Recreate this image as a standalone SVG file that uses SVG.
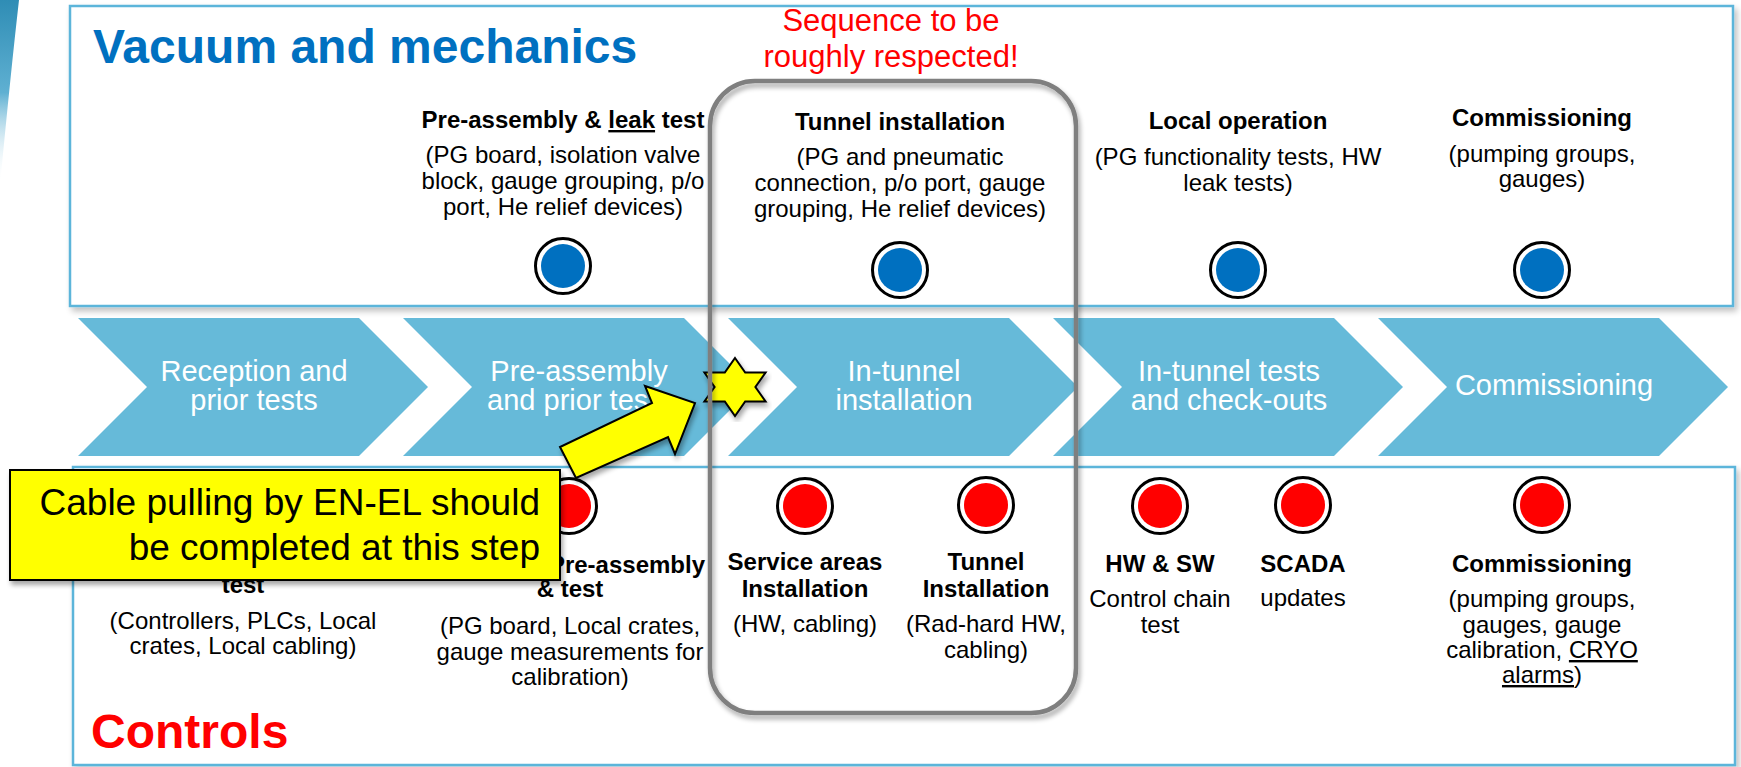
<svg xmlns="http://www.w3.org/2000/svg" width="1741" height="767" viewBox="0 0 1741 767">
<style>
  text { font-family: "Liberation Sans", Arial, sans-serif; }
  .title { font-size: 48px; font-weight: bold; }
  .hd { font-size: 24px; font-weight: bold; fill: #000; text-anchor: middle; }
  .bd { font-size: 24px; fill: #000; text-anchor: middle; }
  .chev { fill: #66BAD9; }
  .ct { font-size: 29px; fill: #fff; text-anchor: middle; }
  .panel { fill: #fff; stroke: #5BB5DA; stroke-width: 2.5; }
  .ring { fill: #fff; stroke: #000; stroke-width: 3; }
  .blue { fill: #0070C0; }
  .red { fill: #FF0000; }
</style>
<defs>
  <linearGradient id="swoosh" x1="0" y1="0" x2="0" y2="1">
    <stop offset="0" stop-color="#2F8DB5"/>
    <stop offset="0.5" stop-color="#5FB0D2"/>
    <stop offset="1" stop-color="#FFFFFF" stop-opacity="0"/>
  </linearGradient>
  <filter id="sh" x="-5%" y="-5%" width="110%" height="110%">
    <feGaussianBlur in="SourceAlpha" stdDeviation="3"/>
    <feOffset dx="3" dy="4"/>
    <feComponentTransfer><feFuncA type="linear" slope="0.25"/></feComponentTransfer>
    <feMerge><feMergeNode/><feMergeNode in="SourceGraphic"/></feMerge>
  </filter>
  <filter id="sh2" x="-10%" y="-10%" width="120%" height="120%">
    <feGaussianBlur in="SourceAlpha" stdDeviation="2.5"/>
    <feOffset dx="2" dy="4"/>
    <feComponentTransfer><feFuncA type="linear" slope="0.35"/></feComponentTransfer>
    <feMerge><feMergeNode/><feMergeNode in="SourceGraphic"/></feMerge>
  </filter>
  <filter id="soft" x="-20%" y="-20%" width="140%" height="140%">
    <feGaussianBlur stdDeviation="0.7"/>
  </filter>
</defs>

<rect width="1741" height="767" fill="#fff"/>
<path d="M0,0 L19,0 Q11,70 0,185 Z" fill="url(#swoosh)"/>

<!-- panels -->
<g id="vacuum-panel">
  <rect class="panel" x="70" y="6" width="1663" height="300" filter="url(#sh)"/>
  <text class="title" x="93" y="63" fill="#0070C0">Vacuum and mechanics</text>
</g>
<g id="controls-panel">
  <rect class="panel" x="73" y="467" width="1662" height="298" filter="url(#sh)"/>
  <text class="title" x="91" y="748" fill="#FF0000">Controls</text>
</g>

<!-- chevrons -->
<g id="step-reception">
  <path class="chev" d="M78,318 L359,318 L428,387 L359,456 L78,456 L147,387 Z"/>
  <text class="ct" x="254" y="381">Reception and</text>
  <text class="ct" x="254" y="410">prior tests</text>
</g>
<g id="step-preassembly">
  <path class="chev" d="M403,318 L684,318 L753,387 L684,456 L403,456 L472,387 Z"/>
  <text class="ct" x="579" y="381">Pre-assembly</text>
  <text class="ct" x="579" y="410">and prior tests</text>
</g>
<g id="step-intunnel">
  <path class="chev" d="M728,318 L1009,318 L1078,387 L1009,456 L728,456 L797,387 Z"/>
  <text class="ct" x="904" y="381">In-tunnel</text>
  <text class="ct" x="904" y="410">installation</text>
</g>
<g id="step-tests">
  <path class="chev" d="M1053,318 L1334,318 L1403,387 L1334,456 L1053,456 L1122,387 Z"/>
  <text class="ct" x="1229" y="381">In-tunnel tests</text>
  <text class="ct" x="1229" y="410">and check-outs</text>
</g>
<g id="step-commissioning">
  <path class="chev" d="M1378,318 L1659,318 L1728,387 L1659,456 L1378,456 L1447,387 Z"/>
  <text class="ct" x="1554" y="395">Commissioning</text>
</g>

<!-- vacuum items -->
<g id="vac-preassembly">
  <text class="hd" x="563" y="128">Pre-assembly &amp; <tspan text-decoration="underline">leak</tspan> test</text>
  <text class="bd" x="563" y="163">(PG board, isolation valve</text>
  <text class="bd" x="563" y="189">block, gauge grouping, p/o</text>
  <text class="bd" x="563" y="215">port, He relief devices)</text>
  <circle class="ring" cx="563" cy="266" r="27.5" filter="url(#soft)"/>
  <circle class="blue" cx="563" cy="266" r="22"/>
</g>
<g id="vac-tunnel">
  <text class="hd" x="900" y="130">Tunnel installation</text>
  <text class="bd" x="900" y="165">(PG and pneumatic</text>
  <text class="bd" x="900" y="191">connection, p/o port, gauge</text>
  <text class="bd" x="900" y="217">grouping, He relief devices)</text>
  <circle class="ring" cx="900" cy="270" r="27.5" filter="url(#soft)"/>
  <circle class="blue" cx="900" cy="270" r="22"/>
</g>
<g id="vac-local">
  <text class="hd" x="1238" y="129">Local operation</text>
  <text class="bd" x="1238" y="165">(PG functionality tests, HW</text>
  <text class="bd" x="1238" y="191">leak tests)</text>
  <circle class="ring" cx="1238" cy="270" r="27.5" filter="url(#soft)"/>
  <circle class="blue" cx="1238" cy="270" r="22"/>
</g>
<g id="vac-commissioning">
  <text class="hd" x="1542" y="126">Commissioning</text>
  <text class="bd" x="1542" y="162">(pumping groups,</text>
  <text class="bd" x="1542" y="187">gauges)</text>
  <circle class="ring" cx="1542" cy="270" r="27.5" filter="url(#soft)"/>
  <circle class="blue" cx="1542" cy="270" r="22"/>
</g>

<!-- controls items -->
<g id="ctl-test">
  <text class="hd" x="243" y="593">test</text>
  <text class="bd" x="243" y="629">(Controllers, PLCs, Local</text>
  <text class="bd" x="243" y="654">crates, Local cabling)</text>
</g>
<g id="ctl-preassembly">
  <circle class="ring" cx="569" cy="506" r="27.5" filter="url(#soft)"/>
  <circle class="red" cx="569" cy="506" r="22"/>
  <text class="hd" x="705" y="573" text-anchor="end" style="text-anchor:end">Pre-assembly</text>
  <text class="hd" x="570" y="597">&amp; test</text>
  <text class="bd" x="570" y="634">(PG board, Local crates,</text>
  <text class="bd" x="570" y="660">gauge measurements for</text>
  <text class="bd" x="570" y="685">calibration)</text>
</g>
<g id="ctl-service">
  <circle class="ring" cx="805" cy="506" r="27.5" filter="url(#soft)"/>
  <circle class="red" cx="805" cy="506" r="22"/>
  <text class="hd" x="805" y="570">Service areas</text>
  <text class="hd" x="805" y="597">Installation</text>
  <text class="bd" x="805" y="632">(HW, cabling)</text>
</g>
<g id="ctl-tunnel">
  <circle class="ring" cx="986" cy="505" r="27.5" filter="url(#soft)"/>
  <circle class="red" cx="986" cy="505" r="22"/>
  <text class="hd" x="986" y="570">Tunnel</text>
  <text class="hd" x="986" y="597">Installation</text>
  <text class="bd" x="986" y="632">(Rad-hard HW,</text>
  <text class="bd" x="986" y="658">cabling)</text>
</g>
<g id="ctl-hwsw">
  <circle class="ring" cx="1160" cy="506" r="27.5" filter="url(#soft)"/>
  <circle class="red" cx="1160" cy="506" r="22"/>
  <text class="hd" x="1160" y="572">HW &amp; SW</text>
  <text class="bd" x="1160" y="607">Control chain</text>
  <text class="bd" x="1160" y="633">test</text>
</g>
<g id="ctl-scada">
  <circle class="ring" cx="1303" cy="505" r="27.5" filter="url(#soft)"/>
  <circle class="red" cx="1303" cy="505" r="22"/>
  <text class="hd" x="1303" y="572">SCADA</text>
  <text class="bd" x="1303" y="606">updates</text>
</g>
<g id="ctl-commissioning">
  <circle class="ring" cx="1542" cy="505" r="27.5" filter="url(#soft)"/>
  <circle class="red" cx="1542" cy="505" r="22"/>
  <text class="hd" x="1542" y="572">Commissioning</text>
  <text class="bd" x="1542" y="607">(pumping groups,</text>
  <text class="bd" x="1542" y="633">gauges, gauge</text>
  <text class="bd" x="1542" y="658">calibration, <tspan text-decoration="underline">CRYO</tspan></text>
  <text class="bd" x="1542" y="683"><tspan text-decoration="underline">alarms</tspan>)</text>
</g>

<!-- callout -->
<g id="callout">
  <rect x="10" y="470" width="550" height="110" fill="#FFFF00" stroke="#000" stroke-width="2" filter="url(#sh2)"/>
  <text x="540" y="515" font-size="37" text-anchor="end" fill="#000">Cable pulling by EN-EL should</text>
  <text x="540" y="560" font-size="37" text-anchor="end" fill="#000">be completed at this step</text>
</g>

<g id="connectors">
  <polygon points="576,478 560,447 652,403 645,386 695,403 675,454 668,437" fill="#FFFF00" stroke="#000" stroke-width="2" stroke-linejoin="miter" filter="url(#sh2)"/>
</g>

<g id="star">
  <polygon points="735,358 745.2,372.5 765.6,372.5 755.4,387 765.6,401.5 745.2,401.5 735,416 724.8,401.5 704.4,401.5 714.6,387 704.4,372.5 724.8,372.5" fill="#FFFF00" stroke="#000" stroke-width="2" filter="url(#sh2)"/>
</g>

<g id="sequence-frame">
  <rect x="710" y="81" width="366" height="632" rx="45" fill="none" stroke="#7F7F7F" stroke-width="4.5" filter="url(#sh2)"/>
  <text x="891" y="31" font-size="31" text-anchor="middle" fill="#FF0000">Sequence to be</text>
  <text x="891" y="67" font-size="31" text-anchor="middle" fill="#FF0000">roughly respected!</text>
</g>
</svg>
